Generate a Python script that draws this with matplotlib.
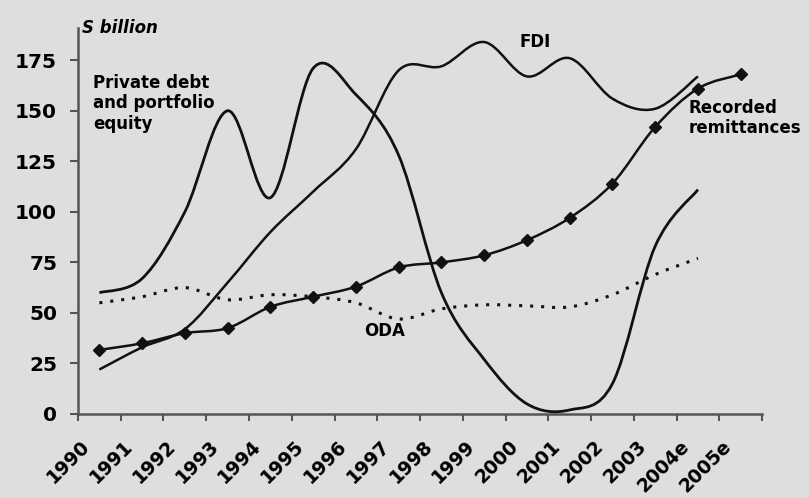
import numpy as np
import matplotlib
matplotlib.use("Agg")
import matplotlib.pyplot as plt
from matplotlib.path import Path
from matplotlib.patches import PathPatch
from matplotlib.transforms import ScaledTranslation

# ==================== DADOS ====================
anos = ['1990', '1991', '1992', '1993', '1994', '1995', '1996', '1997',
        '1998', '1999', '2000', '2001', '2002', '2003', '2004e', '2005e']
remessas = [31.7, 35, 40, 42.5, 53, 58, 63, 72.5, 75, 78.5, 86, 97, 114, 142, 161, 168]
fdi = [22, 33, 42, 65, 90, 110, 131, 170, 172, 184, 167, 176, 156, 151, 167]
divida_privada = [60, 67, 100, 150, 107, 171, 158, 128, 60, 27, 5, 2, 15, 83, 111]
oda = [55, 58, 62.5, 56.5, 59, 58, 55, 47, 52, 54, 53.5, 53, 59, 69, 77]
# ===============================================

COR_FUNDO = '#dedede'
COR_EIXO = '#555555'


def caminho_suave(valores):
    # curva suavizada estilo Excel (Catmull-Rom em Bezier cubica)
    pts = np.column_stack([np.arange(len(valores)), valores]).astype(float)
    n = len(pts)
    verts = [pts[0]]
    codes = [Path.MOVETO]
    for i in range(n - 1):
        p0 = pts[max(i - 1, 0)]
        p1 = pts[i]
        p2 = pts[i + 1]
        p3 = pts[min(i + 2, n - 1)]
        verts += [p1 + (p2 - p0) / 6, p2 - (p3 - p1) / 6, p2]
        codes += [Path.CURVE4] * 3
    return Path(verts, codes)


fig = plt.figure(figsize=(8.09, 4.98), dpi=100, facecolor=COR_FUNDO)
ax = fig.add_axes([0.0964, 0.1687, 0.8456, 0.7753])
ax.set_facecolor(COR_FUNDO)

for serie, estilo, lw in [(divida_privada, '-', 2.0), (fdi, '-', 1.8),
                          (remessas, '-', 1.8), (oda, (0, (1, 2.6)), 2.2)]:
    ax.add_patch(PathPatch(caminho_suave(serie), facecolor='none', edgecolor='#111111',
                           lw=lw, linestyle=estilo, capstyle='butt', zorder=3))

ax.plot(range(len(remessas)), remessas, linestyle='none', marker='D',
        markersize=6, color='#111111', zorder=4)

ax.set_xlim(-0.5, len(anos) - 0.5)
ax.set_ylim(0, 191)

ax.set_yticks(range(0, 176, 25))
ax.set_xticks(range(len(anos)))
ax.set_xticks(np.arange(-0.5, len(anos), 1), minor=True)
ax.set_xticklabels(anos, rotation=45, ha='right', va='center', rotation_mode='anchor',
                   fontsize=13.5, fontweight='bold')
for rotulo in ax.get_yticklabels():
    rotulo.set_fontsize(14.5)
    rotulo.set_fontweight('bold')

ax.tick_params(axis='x', which='major', length=0, pad=0)
ax.tick_params(axis='x', which='minor', length=5, width=1.5, color=COR_EIXO, direction='out')
ax.tick_params(axis='y', length=6, width=1.5, color=COR_EIXO, pad=9)

deslocamento = ScaledTranslation(-12 / 100, -29 / 100, fig.dpi_scale_trans)
for rotulo in ax.get_xticklabels():
    rotulo.set_transform(rotulo.get_transform() + deslocamento)

for lado in ['top', 'right']:
    ax.spines[lado].set_visible(False)
for lado in ['left', 'bottom']:
    ax.spines[lado].set_color(COR_EIXO)
    ax.spines[lado].set_linewidth(1.8)

# rótulos das séries
ax.text(-0.15, 168, 'Private debt\nand portfolio\nequity', ha='left', va='top',
        fontsize=12, fontweight='bold', linespacing=1.15, zorder=5)
ax.text(10.2, 184, 'FDI', ha='center', va='center', fontsize=12, fontweight='bold')
ax.text(13.78, 156, 'Recorded\nremittances', ha='left', va='top', fontsize=12,
        fontweight='bold', linespacing=1.15, clip_on=False)
ax.text(6.68, 41, 'ODA', ha='center', va='center', fontsize=12, fontweight='bold')

fig.text(82 / 809, 1 - 33 / 498, 'S billion', ha='left', va='baseline',
         fontsize=12, fontweight='bold', fontstyle='italic')

fig.savefig('out.png', dpi=100, facecolor=COR_FUNDO)
